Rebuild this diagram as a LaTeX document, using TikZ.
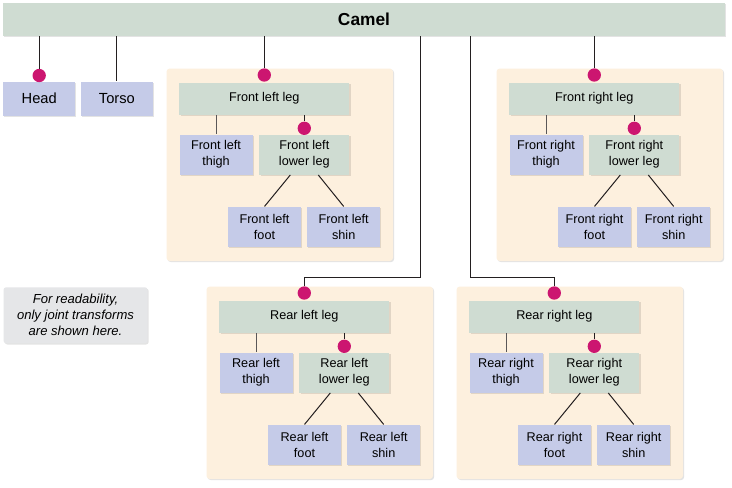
\documentclass[tikz,border=0pt]{standalone}
\usepackage{fontspec}
\setmainfont{Liberation Sans}
\usetikzlibrary{shadows}
\definecolor{BodyCol}{RGB}{207,220,210}
\definecolor{PartCol}{RGB}{197,203,232}
\definecolor{PanelCol}{RGB}{253,240,222}
\definecolor{JointCol}{RGB}{204,22,112}
\definecolor{NoteCol}{RGB}{229,230,232}
\definecolor{LinkCol}{RGB}{35,31,32}
\tikzset{
  cmshadow/.style={drop shadow={shadow xshift=0.9pt, shadow yshift=-0.9pt, opacity=0.11, fill=black}},
  cmbody/.style={fill=BodyCol, cmshadow, inner sep=0pt, minimum height=24pt, align=center, font=\fontsize{9.5}{12}\selectfont},
  cmpart/.style={fill=PartCol, cmshadow, inner sep=0pt, minimum width=54.75pt, minimum height=30pt, align=center, font=\fontsize{9.5}{12}\selectfont},
  cmjoint/.style={circle, fill=JointCol, inner sep=0pt, minimum size=10pt},
  cmlink/.style={line width=0.75pt, draw=LinkCol},
  cmthin/.style={line width=0.65pt, draw=LinkCol!75},
  cmpanel/.style={fill=PanelCol, rounded corners=2.5pt, cmshadow},
  cmnote/.style={fill=NoteCol, rounded corners=2pt, cmshadow, inner sep=0pt, minimum width=108pt, minimum height=42pt, align=center, font=\itshape\fontsize{9.8}{12}\selectfont}
}

\begin{document}
\begin{tikzpicture}[x=0.75pt,y=-0.75pt]
  \fill[white] (0,0) rectangle (732,487);
  \useasboundingbox (0,0) rectangle (732,487);
  % whole animal and the two fixed parts
  \node[cmbody, minimum width=541.5pt, minimum height=24.75pt, font=\bfseries\fontsize{13}{15}\selectfont] (camel) at (364,19.5) {Camel};
  \node[cmpart, minimum width=54pt, minimum height=25.5pt, font=\fontsize{11}{13}\selectfont] (head) at (39.2,98.5) {Head};
  \node[cmpart, minimum width=54pt, minimum height=25.5pt, font=\fontsize{11}{13}\selectfont] (torso) at (116.9,98.5) {Torso};
  \node[cmjoint] (headj) at (39.2,75.5) {};
  \draw[cmlink] (camel.south -| headj) -- (headj);
  \draw[cmlink] (camel.south -| torso) -- (torso);
  % the four legs
  \foreach \dx/\dy/\gp/\lbl in {0/0/fl/Front left, 330/0/fr/Front right, 40/218/rl/Rear left, 290/218/rr/Rear right} {
    \begin{scope}[shift={(\dx,\dy)}]
      \fill[cmpanel] (166.5,68.5) rectangle (393,261);
      \node[cmbody, minimum width=127.5pt] (\gp-leg) at (264.3,98.6) {\lbl\ leg};
      \node[cmjoint] (\gp-legj) at (264.3,75) {};
      \node[cmpart] (\gp-thigh) at (216,154.7) {\lbl\\thigh};
      \node[cmbody, minimum width=67.5pt, minimum height=30pt] (\gp-lower) at (304.3,154.7) {\lbl\\lower leg};
      \node[cmjoint] (\gp-lowerj) at (304.3,128.3) {};
      \node[cmpart] (\gp-foot) at (264.5,226.7) {\lbl\\foot};
      \node[cmpart] (\gp-shin) at (343.7,226.7) {\lbl\\shin};
      \draw[cmthin] (\gp-leg.south -| \gp-thigh) -- (\gp-thigh);
      \draw[cmlink] (\gp-leg.south -| \gp-lowerj) -- (\gp-lowerj);
      \draw[cmlink] ([xshift=-10.5pt]\gp-lower.south) -- (\gp-foot.north);
      \draw[cmlink] ([xshift=10.5pt]\gp-lower.south) -- (\gp-shin.north);
    \end{scope}
  }
  \draw[cmlink] (camel.south -| fl-legj) -- (fl-legj);
  \draw[cmlink] (camel.south -| fr-legj) -- (fr-legj);
  \coordinate (rlbend) at (420,277);
  \coordinate (rrbend) at (470,277);
  \draw[cmlink] (camel.south -| rlbend) -- (rlbend) -| (rl-legj);
  \draw[cmlink] (camel.south -| rrbend) -- (rrbend) -| (rr-legj);
  % remark
  \node[cmnote] (note) at (75.5,315.3) {For readability,\\only joint transforms\\are shown here.};
\end{tikzpicture}
\end{document}
